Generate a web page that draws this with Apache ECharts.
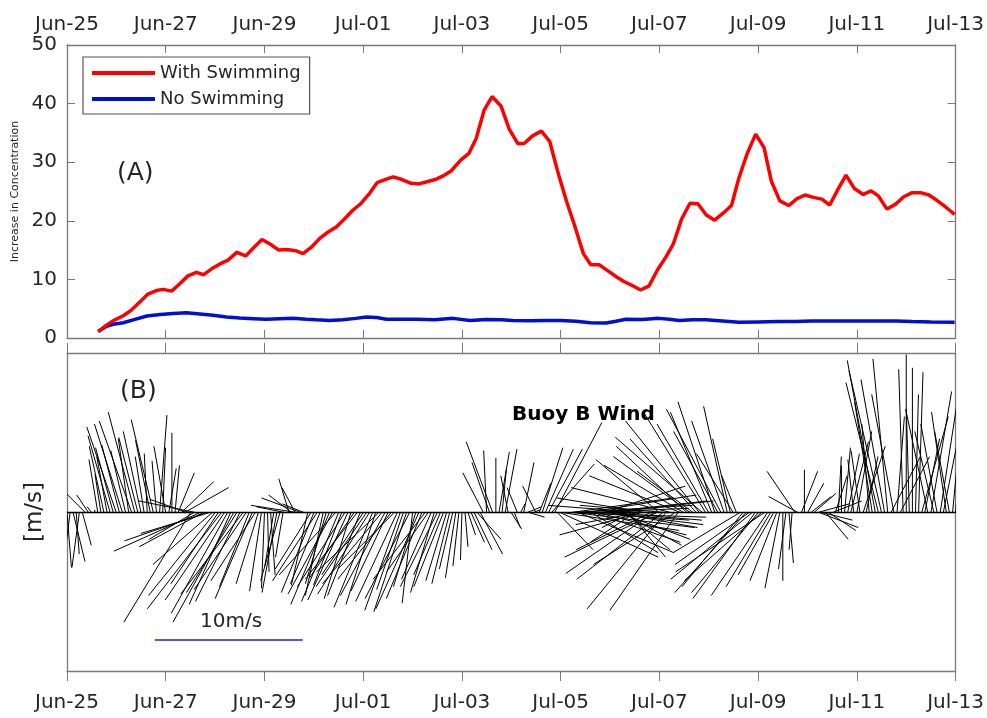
<!DOCTYPE html>
<html>
<head>
<meta charset="utf-8">
<script src="https://cdn.jsdelivr.net/npm/echarts@6/dist/echarts.min.js"></script>
<style>
    html, body { margin: 0; padding: 0; background: #fff; }
    #chart { width: 987px; height: 718px; }
</style>
</head>
<body>
<div id="chart"></div>
<script>
// x = days since Jun-25 00:00
const tickLabels = ['Jun-25', 'Jun-27', 'Jun-29', 'Jul-01', 'Jul-03', 'Jul-05', 'Jul-07', 'Jul-09', 'Jul-11', 'Jul-13'];

const withDays = [0.63, 0.80, 0.97, 1.14, 1.31, 1.48, 1.64, 1.81, 1.95, 2.12,
    2.29, 2.45, 2.62, 2.77, 2.93, 3.09, 3.26, 3.44, 3.62, 3.77,
    3.95, 4.12, 4.29, 4.46, 4.63, 4.78, 4.95, 5.12, 5.29, 5.46,
    5.62, 5.79, 5.96, 6.13, 6.28, 6.47, 6.61, 6.80, 6.97, 7.13,
    7.31, 7.48, 7.65, 7.78, 7.97, 8.14, 8.29, 8.45, 8.61, 8.79,
    8.96, 9.13, 9.26, 9.43, 9.61, 9.78, 9.95, 10.12, 10.29, 10.46,
    10.61, 10.78, 10.95, 11.12, 11.29, 11.44, 11.62, 11.79, 11.96, 12.13,
    12.28, 12.45, 12.62, 12.78, 12.95, 13.12, 13.29, 13.46, 13.61, 13.78,
    13.95, 14.12, 14.27, 14.44, 14.62, 14.79, 14.95, 15.12, 15.29, 15.45,
    15.62, 15.78, 15.95, 16.13, 16.29, 16.44, 16.61, 16.78, 16.95, 17.12,
    17.29, 17.46, 17.62, 17.79, 17.98];
const withValues = [1.1, 2.2, 3.1, 3.8, 4.8, 6.2, 7.5, 8.1, 8.3, 8.0,
    9.3, 10.6, 11.2, 10.8, 11.8, 12.6, 13.3, 14.6, 14.0, 15.3,
    16.8, 16.0, 15.0, 15.1, 14.9, 14.4, 15.5, 17.0, 18.1, 19.0,
    20.3, 21.8, 23.0, 24.7, 26.5, 27.1, 27.5, 27.0, 26.4, 26.3,
    26.7, 27.1, 27.8, 28.5, 30.3, 31.5, 34.1, 38.9, 41.2, 39.6,
    35.6, 33.2, 33.2, 34.5, 35.3, 33.5, 28.1, 23.3, 19.0, 14.4,
    12.5, 12.5, 11.5, 10.5, 9.6, 9.0, 8.2, 8.9, 11.6, 13.8,
    16.0, 20.3, 23.0, 22.9, 21.0, 20.1, 21.3, 22.6, 27.3, 31.5,
    34.8, 32.5, 26.7, 23.4, 22.6, 23.8, 24.4, 24.0, 23.7, 22.7,
    25.4, 27.8, 25.5, 24.5, 25.1, 24.2, 22.0, 22.8, 24.1, 24.8,
    24.8, 24.4, 23.5, 22.4, 21.1];

const noDays = [0.63, 0.80, 0.97, 1.14, 1.34, 1.62, 1.89, 2.15, 2.42, 2.69,
    2.96, 3.23, 3.50, 3.77, 4.04, 4.31, 4.58, 4.85, 5.05, 5.32,
    5.59, 5.85, 6.06, 6.27, 6.47, 6.80, 7.08, 7.45, 7.82, 8.16,
    8.50, 8.80, 9.03, 9.37, 9.70, 10.00, 10.31, 10.60, 10.92, 11.12,
    11.32, 11.65, 11.99, 12.20, 12.40, 12.67, 12.94, 13.28, 13.61, 14.00,
    14.42, 14.75, 15.09, 15.50, 16.00, 16.44, 16.80, 17.12, 17.50, 17.98];
const noValues = [1.1, 2.0, 2.4, 2.6, 3.1, 3.75, 4.0, 4.2, 4.3, 4.1,
    3.9, 3.6, 3.4, 3.3, 3.2, 3.3, 3.35, 3.2, 3.1, 3.0,
    3.1, 3.35, 3.6, 3.5, 3.2, 3.2, 3.2, 3.1, 3.35, 3.0,
    3.15, 3.1, 3.0, 2.95, 3.0, 3.0, 2.85, 2.6, 2.55, 2.85,
    3.2, 3.15, 3.35, 3.2, 3.0, 3.1, 3.1, 2.9, 2.7, 2.75,
    2.8, 2.8, 2.9, 2.9, 2.9, 2.9, 2.9, 2.8, 2.75, 2.7];

// Buoy B wind, one stick every 1.5 hours from Jun-25 00:00 (m/s, east / north), one row per day
const windStepDays = 1.5 / 24;
const windU = [
    0.3, -0.5, 0.8, 0.2, -0.5, 0.6, -1.4, -0.8, -0.3, 0.0, -0.6, -0.4, -1.0, -0.7, -1.5, -1.2,
    -2.0, -1.2, -1.9, -1.0, -0.7, -2.2, -1.8, -1.3, -1.2, -0.6, -0.2, -1.0, -1.5, -0.3, 0.5, 0.2,
    -0.8, 0.5, 0.0, 0.3, 1.1, 2.2, 3.0, -2.5, -4.5, -3.0, -3.9, -5.8, -4.3, -5.5, -4.6, -4.0,
    -4.5, -3.2, -5.0, -4.0, -3.8, -2.8, -4.1, -3.4, -3.0, -4.2, -3.5, -2.0, -2.5, -3.0, -1.5, -0.8,
    -0.2, 0.1, 0.3, -0.6, -1.0, -1.3, -0.5, -2.0, -0.7, -1.6, -0.9, -3.2, -2.7, -1.5, -1.1, -2.4,
    -2.2, -3.0, -2.0, -1.2, -1.4, -2.6, -3.0, -3.8, -2.5, -1.9, -3.2, -2.7, -1.8, -3.0, -3.5, -2.2,
    -2.8, -3.4, -3.5, -2.6, -2.0, -4.2, -4.0, -3.0, -2.5, -3.6, -3.8, -2.8, -2.4, -1.8, -2.2, -3.0,
    -0.7, -1.5, -2.9, -2.4, -3.5, -2.8, -2.0, -1.6, -2.5, -1.8, -2.0, -1.4, -1.2, -0.9, -0.7, -0.4,
    -0.1, 0.2, 0.5, 0.9, 1.2, 1.6, 1.5, -1.4, -0.2, -1.2, -1.8, 0.0, 0.7, 0.3, 0.8, -0.5,
    0.7, 0.4, -0.7, 0.3, 0.7, 1.0, 1.0, 0.5, -0.9, 0.8, 1.4, 1.9, 2.3, 2.9, 3.2, 2.4,
    6.6, 7.8, 8.5, 7.0, 9.0, 8.0, 6.4, 7.2, 7.5, 6.8, 4.5, 5.8, 6.0, 7.2, 5.5, 6.5,
    7.0, 6.0, 5.5, 4.8, 4.0, 3.0, 2.5, -2.0, -3.0, -4.2, -5.5, -6.5, -6.1, -5.0, -5.9, -6.2,
    -4.3, -5.8, -5.3, -6.0, -6.8, -5.5, -4.6, -6.2, -5.4, -4.8, -5.2, -3.8, -4.5, -5.0, -5.9, -4.2,
    -3.5, -2.8, -2.5, -3.0, -3.7, -2.2, -1.6, -1.2, -2.5, -1.0, -4.5, -4.1, -4.8, -5.0, -5.5, -4.2,
    -4.5, -5.2, -6.0, -3.8, -3.0, -2.4, -1.8, -1.0, 0.0, -0.5, 0.3, -0.2, -1.9, -2.0, 1.1, 0.0,
    1.1, 1.4, 1.5, 2.2, 2.6, 2.0, 1.5, 1.8, 2.0, 0.8, 0.2, 0.0, 0.4, 0.8, 1.2, -0.4,
    1.0, -0.6, 1.5, 0.8, -0.5, -1.2, -1.9, -2.2, -2.2, -1.6, -1.0, 2.0, -1.5, 0.5, 2.0, -0.3,
    0.0, -0.2, 0.0, 0.2, 0.3, 1.8, 1.0, -1.5, 1.4, -1.3, -1.1, 1.2, 1.5, -1.0, -1.0, 0.8,
    0.3];
const windV = [
    -3.7, -3.9, -3.3, -2.8, -3.7, -2.2, 1.4, 1.2, 0.4, 0.2, 3.6, 2.6, 4.5, 3.8, 5.2, 4.4,
    5.8, 4.6, 6.0, 4.2, 5.0, 6.2, 6.8, 5.1, 5.5, 3.8, 4.0, 4.9, 6.3, 3.5, 6.6, 4.4,
    4.5, 3.0, 5.4, 3.2, 2.7, 2.1, 1.7, 0.9, -7.4, -1.8, 0.8, -2.6, -2.3, -1.9, -1.4, -3.5,
    -5.6, -4.8, -6.5, -5.9, -6.8, -6.2, -7.4, -5.4, -6.0, -5.5, -5.2, -5.0, -5.8, -4.6, -4.8, -5.3,
    -5.1, -4.0, -4.2, -3.6, -5.4, -4.6, -3.0, 0.4, 2.3, 1.2, 1.7, 0.5, 1.0, 0.6, -4.9, -3.8,
    -5.4, -4.6, -4.8, -5.6, -4.8, -6.2, -5.5, -4.2, -6.0, -4.9, -5.0, -5.9, -5.8, -4.4, -4.5, -5.6,
    -4.2, -5.0, -5.5, -6.4, -6.2, -4.0, -4.8, -5.6, -5.3, -4.5, -3.8, -6.0, -6.6, -5.2, -6.7, -5.8,
    -6.1, -5.0, -6.5, -5.8, -4.5, -4.0, -4.5, -5.4, -5.0, -4.2, -5.0, -4.6, -4.8, -3.8, -4.4, -3.6,
    -3.2, -2.3, -1.5, -2.0, -2.5, -1.8, -2.8, 2.7, 4.2, 3.4, 4.8, 3.7, 4.1, 3.0, 4.3, 2.5,
    -1.1, -1.0, 1.7, 0.6, 3.4, 0.4, -0.3, 0.2, 1.8, 2.0, 4.4, 4.3, 4.3, 3.3, 6.1, -2.5,
    -3.0, -1.2, 0.5, 1.0, -0.3, -1.0, -2.7, 0.3, 1.2, -0.5, -2.7, -2.0, -1.5, 0.8, 1.8, -0.8,
    0.8, -0.5, -1.0, -1.8, -2.2, -2.5, -3.0, -1.0, -2.0, -0.8, -1.5, 0.5, 1.0, -2.5, -4.1, -3.0,
    3.6, -4.5, -6.5, 0.5, 1.7, -3.5, -6.6, 2.5, 3.2, 4.5, 3.8, 2.8, 5.0, 6.2, 5.1, 6.8,
    6.0, 6.8, 7.5, 5.5, 7.0, 6.2, 7.2, 5.0, 4.0, 2.5, -2.7, -5.0, -5.4, -3.5, -4.5, -5.8,
    -5.4, -4.6, -4.0, -5.6, -5.0, -4.2, -4.6, -5.1, -4.6, -3.8, -3.4, -2.5, 2.8, 1.1, 2.8, 2.9,
    2.0, 1.1, 1.3, 0.6, -1.0, -0.5, -1.8, -1.2, 0.8, 2.5, 3.8, 3.2, 4.4, 4.0, 4.8, 3.6,
    5.5, 4.2, 4.5, 3.8, 6.0, 7.5, 10.3, 8.8, 9.6, 9.0, 10.4, 3.8, 8.0, 6.5, 3.8, 9.7,
    10.7, 7.0, 9.8, 8.0, 9.5, 6.5, 5.0, 7.0, 8.2, 5.5, 6.0, 7.8, 7.5, 6.8, 5.5, 8.3,
    4.0];

// scale stick: start day, level (m/s), length (m/s)
const scaleBar = [1.78, -8.6, 10];

const font = 'DejaVu Sans';
const textColor = '#262626';
const frameColor = '#7a7a7a';

var myChart = echarts.init(document.getElementById('chart'));

function zip(xs, ys) {
    return xs.map(function (x, i) { return [x, ys[i]]; });
}

function stickItem(params, api) {
    var base = api.coord([api.value(0), 0]);
    var k = api.size([0, 1])[1];
    return {
        type: 'line',
        shape: { x1: base[0], y1: base[1], x2: base[0] + api.value(1) * k, y2: base[1] - api.value(2) * k },
        style: { stroke: '#000', lineWidth: 1 }
    };
}

function scaleItem(params, api) {
    var start = api.coord([api.value(0), api.value(1)]);
    var k = api.size([0, 1])[1];
    return {
        type: 'line',
        shape: { x1: start[0], y1: start[1], x2: start[0] + api.value(2) * k, y2: start[1] },
        style: { stroke: '#1a1aff', lineWidth: 1.5 }
    };
}

function dayLabel(v) {
    return tickLabels[Math.round(v / 2)];
}

var frameLine = { show: true, onZero: false, lineStyle: { color: frameColor, width: 1.3 } };

var option = {
    animation: false,
    backgroundColor: '#fff',
    grid: [
        { left: 67, top: 45, width: 890, height: 293 },
        { left: 67, top: 353, width: 890, height: 318 }
    ],
    xAxis: [
        {
            gridIndex: 0, type: 'value', position: 'top', min: 0, max: 18, interval: 2,
            axisLine: frameLine,
            axisTick: { inside: true, length: 8, lineStyle: { color: frameColor } },
            axisLabel: { formatter: dayLabel, margin: 10, color: textColor, fontSize: 20, fontFamily: font },
            splitLine: { show: false }
        },
        {
            gridIndex: 0, type: 'value', position: 'bottom', min: 0, max: 18, interval: 2,
            axisLine: frameLine,
            axisTick: { inside: true, length: 8, lineStyle: { color: frameColor } },
            axisLabel: { show: false },
            splitLine: { show: false }
        },
        {
            gridIndex: 1, type: 'value', position: 'bottom', min: 0, max: 18, interval: 2,
            axisLine: frameLine,
            axisTick: { length: 10, lineStyle: { color: frameColor } },
            axisLabel: { formatter: dayLabel, margin: 22, color: textColor, fontSize: 20, fontFamily: font },
            splitLine: { show: false }
        },
        {
            gridIndex: 1, type: 'value', position: 'top', min: 0, max: 18, interval: 2,
            axisLine: frameLine,
            axisTick: { length: 10, lineStyle: { color: frameColor } },
            axisLabel: { show: false },
            splitLine: { show: false }
        }
    ],
    yAxis: [
        {
            gridIndex: 0, type: 'value', position: 'left', min: 0, max: 50, interval: 10,
            name: 'Increase in Concentration', nameLocation: 'middle', nameGap: 43,
            nameTextStyle: { color: textColor, fontSize: 11, fontFamily: font },
            axisLine: frameLine,
            axisTick: { inside: true, length: 8, lineStyle: { color: frameColor } },
            axisLabel: { margin: 10, color: textColor, fontSize: 20, fontFamily: font },
            splitLine: { show: false }
        },
        {
            gridIndex: 0, type: 'value', position: 'right', min: 0, max: 50, interval: 10,
            axisLine: frameLine,
            axisTick: { inside: true, length: 8, lineStyle: { color: frameColor } },
            axisLabel: { show: false },
            splitLine: { show: false }
        },
        {
            gridIndex: 1, type: 'value', position: 'left', min: -10.7, max: 10.8,
            name: '[m/s]', nameLocation: 'middle', nameGap: 20,
            nameTextStyle: { color: textColor, fontSize: 23, fontFamily: font },
            axisLine: frameLine,
            axisTick: { show: false },
            axisLabel: { show: false },
            splitLine: { show: false }
        },
        {
            gridIndex: 1, type: 'value', position: 'right', min: -10.7, max: 10.8,
            axisLine: frameLine,
            axisTick: { show: false },
            axisLabel: { show: false },
            splitLine: { show: false }
        }
    ],
    legend: {
        left: 83, top: 57, orient: 'vertical', icon: 'rect',
        padding: [6, 9, 5, 9], itemGap: 6, itemWidth: 63, itemHeight: 4,
        borderColor: '#555', borderWidth: 1.2, backgroundColor: '#fff',
        textStyle: { color: textColor, fontSize: 18, lineHeight: 20, fontFamily: font },
        data: ['With Swimming', 'No Swimming']
    },
    graphic: [
        { type: 'text', left: 117, top: 161, style: { text: '(A)', fill: textColor, fontSize: 25, fontFamily: font } },
        { type: 'text', left: 120, top: 379, style: { text: '(B)', fill: textColor, fontSize: 25, fontFamily: font } },
        { type: 'text', left: 512, top: 405, z: 10, style: { text: 'Buoy B Wind', fill: '#000', fontSize: 20, fontWeight: 'bold', fontFamily: font } },
        { type: 'text', left: 200, top: 612, style: { text: '10m/s', fill: textColor, fontSize: 20, fontFamily: font } }
    ],
    series: [
        {
            name: 'With Swimming', type: 'line', xAxisIndex: 0, yAxisIndex: 0,
            data: zip(withDays, withValues), symbol: 'none',
            lineStyle: { color: '#ff0000', width: 3.5 }, itemStyle: { color: '#ff0000' }, z: 3
        },
        {
            name: 'No Swimming', type: 'line', xAxisIndex: 0, yAxisIndex: 0,
            data: zip(noDays, noValues), symbol: 'none',
            lineStyle: { color: '#0010d0', width: 3.5 }, itemStyle: { color: '#0010d0' }, z: 2
        },
        {
            name: 'wind', type: 'custom', xAxisIndex: 2, yAxisIndex: 2,
            renderItem: stickItem, clip: true,
            encode: { x: 0, y: 2 },
            data: windU.map(function (u, i) { return [i * windStepDays, u, windV[i]]; }),
            markLine: {
                silent: true, symbol: 'none', label: { show: false },
                lineStyle: { color: '#000', width: 1.3, type: 'solid' },
                data: [{ yAxis: 0 }]
            }
        },
        {
            name: 'scale', type: 'custom', xAxisIndex: 2, yAxisIndex: 2,
            renderItem: scaleItem,
            encode: { x: 0, y: 1 },
            data: [scaleBar]
        }
    ]
};
myChart.setOption(option);
</script>
</body>
</html>
